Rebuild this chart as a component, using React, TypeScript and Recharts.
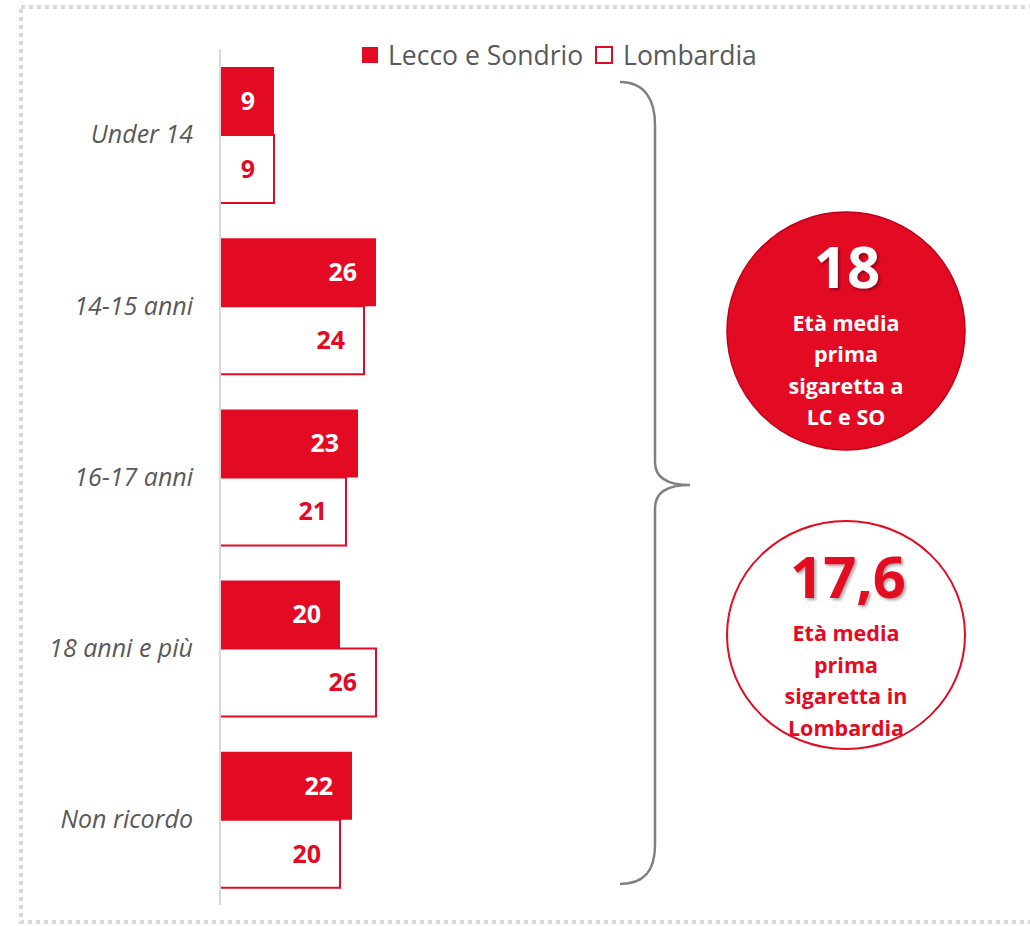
import React from "react";
import { BarChart, Bar, XAxis, YAxis, LabelList, Legend } from "recharts";

const categories = ["Under 14", "14-15 anni", "16-17 anni", "18 anni e più", "Non ricordo"];
const lcSo = [9, 26, 23, 20, 22];
const lombardia = [9, 24, 21, 26, 20];
const seriesNames = ["Lecco e Sondrio", "Lombardia"];
const avgLcSo = "18";
const avgLombardia = "17,6";
const circle1Lines = ["Età media", "prima", "sigaretta a", "LC e SO"];
const circle2Lines = ["Età media", "prima", "sigaretta in", "Lombardia"];

const RED = "#e30a23";
const FONT = "'Open Sans', sans-serif";

const data = categories.map((c, i) => ({ name: c, lc: lcSo[i], lom: lombardia[i] }));

const LegendContent = () => (
  <div style={{ display: "flex", alignItems: "center", fontFamily: FONT, fontSize: 26.5, color: "#595959", whiteSpace: "nowrap", lineHeight: "32px" }}>
    <span style={{ display: "inline-block", width: 16, height: 16, background: RED, marginRight: 10 }} />
    <span style={{ marginRight: 12 }}>{seriesNames[0]}</span>
    <span style={{ display: "inline-block", width: 14, height: 14, border: `2px solid ${RED}`, background: "#fff", marginRight: 10, boxSizing: "content-box" }} />
    <span>{seriesNames[1]}</span>
  </div>
);

export default function App() {
  return (
    <div style={{ position: "absolute", left: 0, top: 0, width: 1030, height: 926, background: "#fff" }}>
      <BarChart
        width={1030}
        height={926}
        data={data}
        layout="vertical"
        margin={{ top: 49, right: 210, bottom: 21, left: 20 }}
        barCategoryGap={18}
        barGap={0}
      >
        <XAxis type="number" domain={[0, 100]} hide />
        <YAxis
          type="category"
          dataKey="name"
          width={200}
          axisLine={{ stroke: "#d9d9d9", strokeWidth: 2 }}
          tickLine={false}
          tickSize={0}
          tickMargin={27}
          tick={{ fill: "#595959", fontSize: 25, fontStyle: "italic", fontFamily: FONT }}
        />
        <Legend
          verticalAlign="middle"
          align="center"
          content={<LegendContent />}
          wrapperStyle={{ position: "absolute", top: 39, left: 362, width: "auto" }}
        />
        <Bar dataKey="lc" fill={RED} isAnimationActive={false}>
          <LabelList dataKey="lc" position="insideRight" offset={19} fill="#fff" fontSize={25} fontWeight={700} fontFamily={FONT} />
        </Bar>
        <Bar dataKey="lom" fill="#fff" stroke={RED} strokeWidth={2} isAnimationActive={false}>
          <LabelList dataKey="lom" position="insideRight" offset={19} fill={RED} fontSize={25} fontWeight={700} fontFamily={FONT} />
        </Bar>
      </BarChart>
      <svg width={1030} height={926} style={{ position: "absolute", left: 0, top: 0, pointerEvents: "none" }}>
        <defs>
          <filter id="sh" x="-20%" y="-20%" width="140%" height="140%">
            <feDropShadow dx="2" dy="2" stdDeviation="1.5" floodColor="#000" floodOpacity="0.35" />
          </filter>
        </defs>
        <rect x={21} y={7} width={1040} height={915} fill="none" stroke="#d9d9d9" strokeWidth={4} strokeDasharray="4 4" />
        <path
          d="M620,82 C645,82 655,100 655,125 L655,462 C655,478 668,485 690,485 C668,485 655,492 655,508 L655,845 C655,870 645,884 620,884"
          fill="none"
          stroke="#808080"
          strokeWidth={2.5}
        />
        <circle cx={846} cy={331} r={119} fill={RED} stroke="#c00018" strokeWidth={1.5} />
        <text x={847} y={288} textAnchor="middle" fill="#fff" fontFamily={FONT} fontWeight={700} fontSize={58} filter="url(#sh)">{avgLcSo}</text>
        {circle1Lines.map((l, i) => (
          <text key={i} x={846} y={331 + i * 31.3} textAnchor="middle" fill="#fff" fontFamily={FONT} fontWeight={700} fontSize={21.5}>{l}</text>
        ))}
        <ellipse cx={846} cy={635} rx={119} ry={114} fill="#fff" stroke={RED} strokeWidth={2} />
        <text x={848} y={598} textAnchor="middle" fill={RED} fontFamily={FONT} fontWeight={700} fontSize={58} filter="url(#sh)">{avgLombardia}</text>
        {circle2Lines.map((l, i) => (
          <text key={i} x={846} y={641 + i * 31.7} textAnchor="middle" fill={RED} fontFamily={FONT} fontWeight={700} fontSize={21.5}>{l}</text>
        ))}
      </svg>
    </div>
  );
}
